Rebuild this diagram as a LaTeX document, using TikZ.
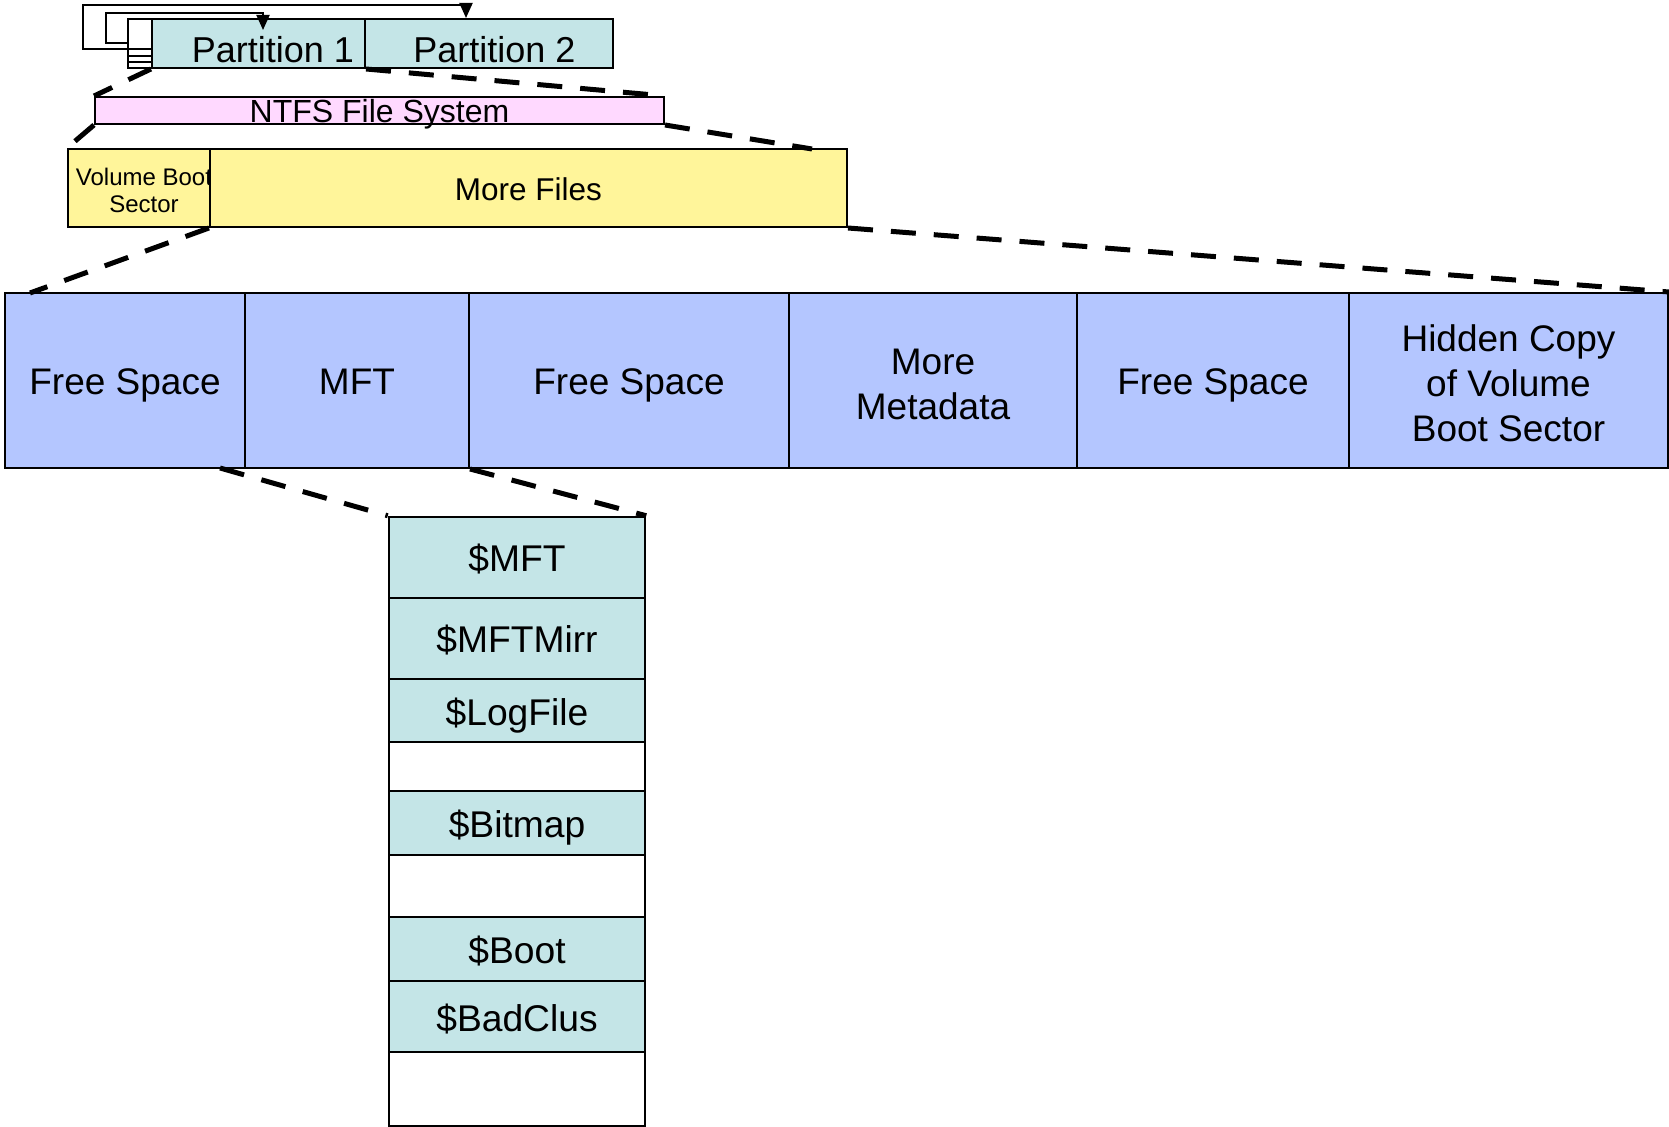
\documentclass[tikz,border=0pt]{standalone}
\usepackage{fontspec}
\setmainfont{Liberation Sans}
\usetikzlibrary{arrows.meta}
\definecolor{partcyan}{HTML}{C4E5E7}
\definecolor{ntfspink}{HTML}{FFD9FF}
\definecolor{fileyellow}{HTML}{FFF59A}
\definecolor{areablue}{HTML}{B4C6FF}

\begin{document}
\begin{tikzpicture}[x=0.5pt,y=-0.5pt,
    box/.style={draw,line width=1pt,inner sep=0pt},
    zoomline/.style={line width=2.5pt,dash pattern=on 12.5pt off 9pt},
    link/.style={line width=1pt,-{Triangle[width=6.5pt,length=7.5pt]}}]
    \useasboundingbox (0,0) rectangle (1669,1127);

    \node[box,fill=white,minimum width=12pt,minimum height=24.5pt] (ptable) at (140,43.5) {};
    \foreach \y in {49,56,62} \draw[line width=1pt] (128,\y) -- (152,\y);
    \node[box,fill=partcyan,minimum width=106.5pt,minimum height=24.5pt] (p1) at (258.5,43.5) {};
    \node[box,fill=partcyan,minimum width=124pt,minimum height=24.5pt] (p2) at (489,43.5) {};
    \node[anchor=base,font=\fontsize{18}{22}\selectfont] (p1text) at (273,63) {Partition 1};
    \node[anchor=base,font=\fontsize{18}{22}\selectfont] (p2text) at (494.5,63) {Partition 2};
    \coordinate (p1in) at (263,30);
    \coordinate (p2in) at (466,18);
    \draw[link] (ptable.west) -| (106,13) -| (p1in);
    \draw[link] ([yshift=-3pt]ptable.west) -| (83,5) -| (p2in);

    \node[box,fill=ntfspink,minimum width=284.5pt,minimum height=13.5pt] (ntfs) at (379.5,110.5) {};
    \node[anchor=base,font=\fontsize{16}{18}\selectfont] (ntfstext) at (379.5,122.5) {NTFS File System};

    \node[box,fill=fileyellow,minimum width=71pt,minimum height=39pt] (vbs) at (139,188) {};
    \node[align=center,font=\fontsize{12}{13.85}\selectfont] (vbstext) at (144,190.5) {Volume Boot\\Sector};
    \node[box,fill=fileyellow,minimum width=318.5pt,minimum height=39pt,text height=12.8pt,text depth=0pt,
        font=\fontsize{15.75}{18}\selectfont] (mf) at (528.5,188) {More Files};

    \foreach \l/\r/\nm/\th/\txt in {5/245/free1/14.5pt/{Free Space}, 245/469/mft/14.5pt/MFT, 469/789/free2/14.5pt/{Free Space},
        789/1077/meta/39.5pt/{More\\Metadata}, 1077/1349/free3/14.5pt/{Free Space}, 1349/1668/copy/61.5pt/{Hidden Copy\\of Volume\\Boot Sector}}
        \node[box,fill=areablue,minimum width={(\r-\l)*0.5pt},minimum height=87.5pt,align=center,text height=\th,text depth=0pt,
            font=\fontsize{18.5}{22.5}\selectfont] (\nm) at ({(\l+\r)/2},380.5) {\txt};

    \foreach \t/\b/\nm/\col/\txt in {517/598/mftrec/partcyan/\$MFT, 598/679/mirr/partcyan/\$MFTMirr,
        679/742/logfile/partcyan/\$LogFile, 742/791/gap1/white/{}, 791/855/bitmap/partcyan/\$Bitmap,
        855/917/gap2/white/{}, 917/981/boot/partcyan/\$Boot, 981/1052/badclus/partcyan/\$BadClus, 1052/1126/gap3/white/{}}
        \node[box,line width=1.25pt,fill=\col,minimum width=128pt,minimum height={(\b-\t)*0.5pt},text height=14.5pt,text depth=0pt,
            font=\fontsize{18.6}{22}\selectfont] (\nm) at (517,{(\t+\b)/2}) {\txt};

    \coordinate (mfcut) at (812,149);
    \coordinate (rowcut) at (30,293);
    \coordinate (mftcut) at (220,468);
    \draw[zoomline] (p1.south west) -- (ntfs.north west);
    \draw[zoomline] (p1.south east) -- (ntfs.north east);
    \draw[zoomline] (ntfs.south west) -- (vbs.north west);
    \draw[zoomline] (ntfs.south east) -- (mfcut);
    \draw[zoomline] (mf.south west) -- (rowcut);
    \draw[zoomline] (mf.south east) -- (copy.north east);
    \draw[zoomline] (mftcut) -- (mftrec.north west);
    \draw[zoomline] (mft.south east) -- (mftrec.north east);
\end{tikzpicture}
\end{document}
